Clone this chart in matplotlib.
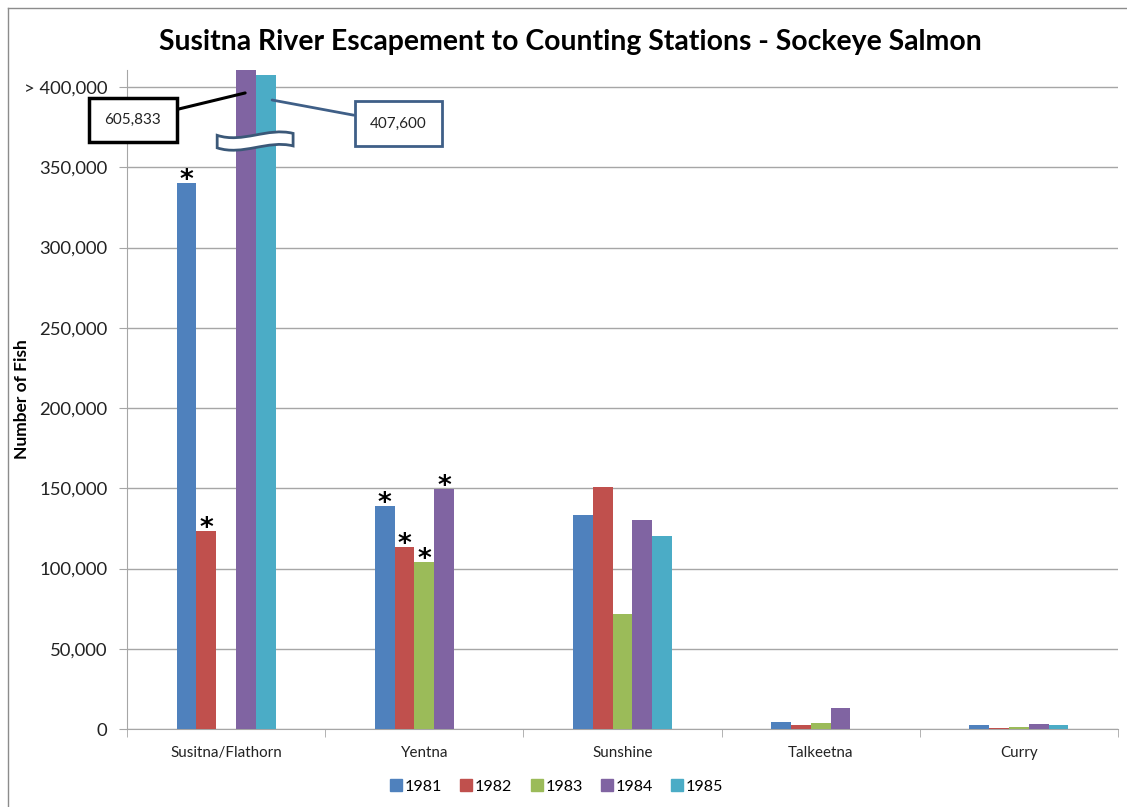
import matplotlib
matplotlib.use("Agg")
import matplotlib.pyplot as plt
import numpy as np
from matplotlib.path import Path
from matplotlib.patches import PathPatch
from matplotlib.lines import Line2D

plt.rcParams['font.family'] = ['Lato', 'DejaVu Sans']

stations = ["Susitna/Flathorn", "Yentna", "Sunshine", "Talkeetna", "Curry"]
years = ["1981", "1982", "1983", "1984", "1985"]
colors = ["#4F81BD", "#C0504D", "#9BBB59", "#8064A2", "#4BACC6"]

# escapement counts per year, one value per station
fish_1981 = [340000, 139000, 133300, 4500, 2700]
fish_1982 = [123400, 113400, 150800, 2700, 600]
fish_1983 = [0, 104000, 71700, 3700, 1400]
fish_1984 = [605833, 149500, 130200, 12900, 3100]
fish_1985 = [407600, 0, 120300, 0, 2700]
series = [fish_1981, fish_1982, fish_1983, fish_1984, fish_1985]

# partial counts flagged with an asterisk: (station index, year index)
flagged = [(0, 0), (0, 1), (1, 0), (1, 1), (1, 2), (1, 3)]

yticks = [0, 50000, 100000, 150000, 200000, 250000, 300000, 350000, 400000]
ytick_labels = ["0", "50,000", "100,000", "150,000", "200,000", "250,000",
                "300,000", "350,000", "> 400,000"]
y_top = 410600

fig = plt.figure(figsize=(11.27, 8.07), dpi=100)
ax = fig.add_axes([127 / 1127, 1 - 729 / 807, (1118 - 127) / 1127, (729 - 70) / 807])

x = np.arange(len(stations))
w = 0.1
for i, (vals, c, yr) in enumerate(zip(series, colors, years)):
    ax.bar(x + (i - 2) * w, vals, width=w, color=c, label=yr, zorder=3)

ax.set_xlim(-0.5, len(stations) - 0.5)
ax.set_ylim(0, y_top)

for si, yi in flagged:
    ax.annotate("*", (x[si] + (yi - 2) * w, series[yi][si]), xytext=(0, -8),
                textcoords="offset points", ha="center", va="bottom",
                fontsize=19, fontweight="bold", color="black", zorder=5,
                family="DejaVu Sans")

ax.set_yticks(yticks)
ax.set_yticklabels(ytick_labels, fontsize=13.3, color="#222222")
ax.yaxis.grid(True, color="#A6A6A6", lw=1, zorder=0)
ax.set_axisbelow(True)
ax.tick_params(axis="y", length=6, color="#A6A6A6", pad=8)

ax.set_xticks(x)
ax.set_xticklabels(stations, fontsize=10.9, color="#222222")
ax.tick_params(axis="x", length=0, pad=12)
ax.set_xticks(np.arange(len(stations) + 1) - 0.5, minor=True)
ax.tick_params(axis="x", which="minor", length=6, color="#A6A6A6")

for s in ["top", "right"]:
    ax.spines[s].set_visible(False)
for s in ["left", "bottom"]:
    ax.spines[s].set_color("#A6A6A6")

ax.set_ylabel("Number of Fish", fontsize=12.5, fontweight="bold")
ax.yaxis.set_label_coords(-0.098, 0.5)

fig.text(0.506, 0.948, "Susitna River Escapement to Counting Stations - Sockeye Salmon",
         ha="center", va="center", fontsize=20.4, fontweight="bold", color="black")

# break marker across the clipped Susitna/Flathorn bars
x0 = -0.045
x1 = 0.338
ymid = 366000
h = 3900
amp = 2600
verts = [
    (x0, ymid + h),
    (x0 + (x1 - x0) / 3, ymid + h - 2 * amp),
    (x0 + 2 * (x1 - x0) / 3, ymid + h + 2 * amp),
    (x1, ymid + h + 1200),
    (x1, ymid - h + 1200),
    (x0 + 2 * (x1 - x0) / 3, ymid - h + 2 * amp),
    (x0 + (x1 - x0) / 3, ymid - h - 2 * amp),
    (x0, ymid - h),
    (x0, ymid + h),
]
codes = [Path.MOVETO, Path.CURVE4, Path.CURVE4, Path.CURVE4, Path.LINETO,
         Path.CURVE4, Path.CURVE4, Path.CURVE4, Path.CLOSEPOLY]
ax.add_patch(PathPatch(Path(verts, codes), facecolor="white", edgecolor="#3B5878",
                       lw=2, zorder=6, clip_on=False))

# value callouts for the clipped bars
ax.annotate(f"{fish_1984[0]:,}", xy=(0.096, 396300),
            xytext=(-0.47, 379400), textcoords="data",
            fontsize=11, ha="center", va="center", color="#222222",
            bbox=dict(boxstyle="square,pad=1.0", fc="white", ec="black", lw=2.5),
            arrowprops=dict(arrowstyle="-", color="black", lw=2.2, shrinkA=0, shrinkB=0),
            annotation_clip=False, zorder=7)
ax.annotate(f"{fish_1985[0]:,}", xy=(0.232, 391900),
            xytext=(0.869, 377300), textcoords="data",
            fontsize=11, ha="center", va="center", color="#222222",
            bbox=dict(boxstyle="square,pad=1.0", fc="white", ec="#3F5F87", lw=2),
            arrowprops=dict(arrowstyle="-", color="#3F5F87", lw=2, shrinkA=0, shrinkB=0),
            annotation_clip=False, zorder=7)

handles = [Line2D([0], [0], marker="s", color="none", markerfacecolor=c,
                  markeredgecolor=c, markersize=8.5) for c in colors]
fig.legend(handles, years, loc="center", bbox_to_anchor=(0.493, 1 - 787 / 807),
           ncol=5, frameon=False, fontsize=11.6, handletextpad=0.05,
           columnspacing=1.0, handlelength=1.0)

# outer frame of the chart area
fig.add_artist(Line2D([8 / 1127, 8 / 1127], [0, 1 - 8 / 807], color="#8C8C8C", lw=1))
fig.add_artist(Line2D([8 / 1127, 1], [1 - 8 / 807, 1 - 8 / 807], color="#8C8C8C", lw=1))

fig.savefig("out.png", dpi=100, facecolor="white")
